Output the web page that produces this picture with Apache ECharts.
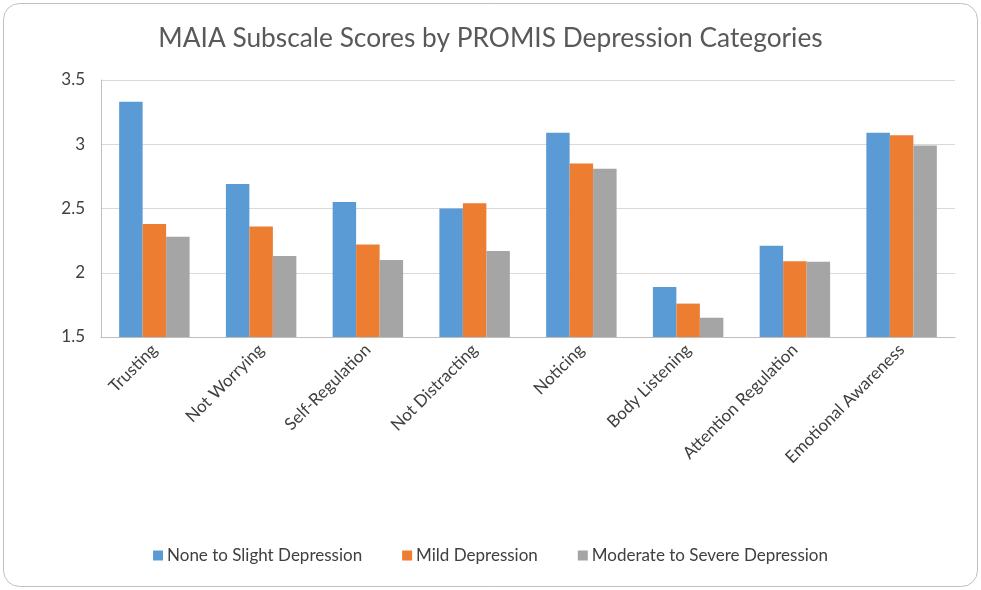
<!DOCTYPE html>
<html>
<head>
<meta charset="utf-8">
<script src="https://cdn.jsdelivr.net/npm/echarts@6/dist/echarts.min.js"></script>
<style>
html,body{margin:0;padding:0;background:#fff;}
#c{width:981px;height:590px;}
</style>
</head>
<body>
<div id="c"></div>
<script>
var categories = ["Trusting","Not Worrying","Self-Regulation","Not Distracting","Noticing","Body Listening","Attention Regulation","Emotional Awareness"];
var seriesNames = ["None to Slight Depression","Mild Depression","Moderate to Severe Depression"];
var noneToSlight = [3.33, 2.69, 2.55, 2.50, 3.09, 1.89, 2.21, 3.09];
var mild = [2.38, 2.36, 2.22, 2.54, 2.85, 1.76, 2.09, 3.07];
var moderateToSevere = [2.28, 2.13, 2.10, 2.17, 2.81, 1.65, 2.085, 2.99];
var yTicks = {min: 1.5, max: 3.5, interval: 0.5};
var colors = ["#5b9bd5", "#ed7d31", "#a5a5a5"];

var font = "Lato, 'Liberation Sans', sans-serif";
var chart = echarts.init(document.getElementById('c'), null, {renderer: 'canvas'});
var values = [noneToSlight, mild, moderateToSevere];
chart.setOption({
  animation: false,
  color: colors,
  graphic: [{
    type: 'rect', shape: {x: 3.5, y: 3.5, width: 974, height: 583, r: 16},
    style: {fill: 'none', stroke: '#bfbfbf', lineWidth: 1}, silent: true, z: -1
  }],
  title: {
    text: 'MAIA Subscale Scores by PROMIS Depression Categories',
    left: 'center', top: 21,
    textStyle: {fontFamily: font, fontSize: 26.3, fontWeight: 'normal', color: '#595959'}
  },
  legend: {
    bottom: 21, left: 'center',
    itemWidth: 10, itemHeight: 10, itemGap: 40,
    icon: 'rect',
    textStyle: {fontFamily: font, fontSize: 17, color: '#404040', padding: [0,0,0,-1]},
    data: seriesNames
  },
  grid: {left: 101, right: 26, top: 80, bottom: 253, containLabel: false},
  xAxis: {
    type: 'category', data: categories,
    axisLine: {show: true, lineStyle: {color: '#bfbfbf', width: 1}},
    axisTick: {show: false},
    axisLabel: {rotate: 45, interval: 0, margin: 10, fontFamily: font, fontSize: 17, color: '#404040'}
  },
  yAxis: {
    type: 'value', min: yTicks.min, max: yTicks.max, interval: yTicks.interval,
    axisLine: {show: true, lineStyle: {color: '#bfbfbf', width: 1}},
    axisTick: {show: false},
    splitLine: {lineStyle: {color: '#d9d9d9', width: 1}},
    axisLabel: {margin: 16, fontFamily: font, fontSize: 17, color: '#404040'}
  },
  series: seriesNames.map(function(n, i){
    return {name: n, type: 'bar', data: values[i], barGap: '0%', barCategoryGap: '34%'};
  })
});
</script>
</body>
</html>
